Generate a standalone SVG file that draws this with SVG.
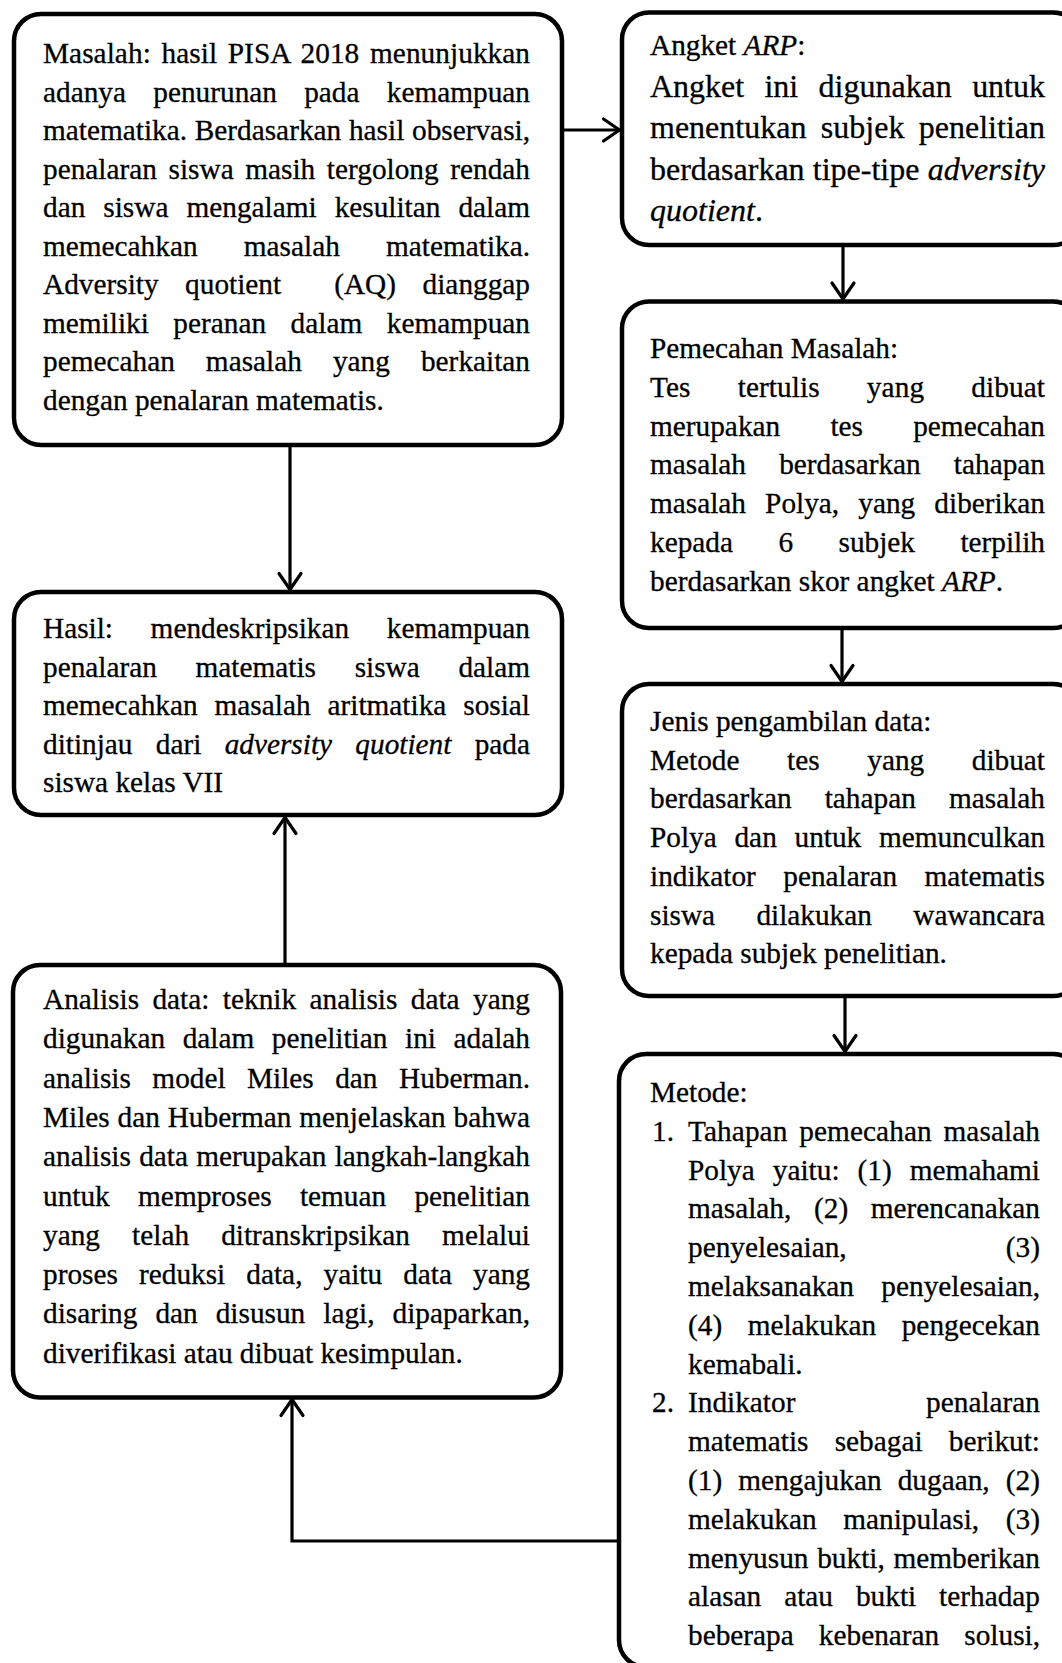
<svg xmlns="http://www.w3.org/2000/svg" width="1062" height="1663" viewBox="0 0 1062 1663">
  <style>
    .t { font-family: "Liberation Serif", "Times New Roman", serif; font-size: 29.3px; fill: #000; stroke: #000; stroke-width: 0.3px; }
    .big { font-size: 32px; }
    .i { font-style: italic; }
    .box { fill: #fff; stroke: #000; stroke-width: 4.5; }
    .link { fill: none; stroke: #000; stroke-width: 3.2; }
  </style>
  <defs>
    <marker id="arrow" markerUnits="userSpaceOnUse" markerWidth="24" markerHeight="28" viewBox="-20 -14 24 28" refX="0" refY="0" orient="auto" overflow="visible">
      <path d="M-16,-11 L0,0 L-16,11" fill="none" stroke="#000" stroke-width="3.2" stroke-linecap="round" stroke-linejoin="round"/>
    </marker>
  </defs>
  <rect width="1062" height="1663" fill="#fff"/>

  <!-- Masalah -->
  <g id="masalah">
    <rect class="box" x="14" y="14" width="548" height="431" rx="27"/>
    <text class="t" x="43" y="63" textLength="487" lengthAdjust="spacing" style="word-spacing:3.3px">Masalah: hasil PISA 2018 menunjukkan</text>
    <text class="t" x="43" y="101.5" textLength="487" lengthAdjust="spacing" style="word-spacing:19.9px">adanya penurunan pada kemampuan</text>
    <text class="t" x="43" y="140" textLength="487" lengthAdjust="spacing" style="word-spacing:0.4px">matematika. Berdasarkan hasil observasi,</text>
    <text class="t" x="43" y="178.5" textLength="487" lengthAdjust="spacing" style="word-spacing:4.2px">penalaran siswa masih tergolong rendah</text>
    <text class="t" x="43" y="217" textLength="487" lengthAdjust="spacing" style="word-spacing:10.7px">dan siswa mengalami kesulitan dalam</text>
    <text class="t" x="43" y="255.5" textLength="487" lengthAdjust="spacing" style="word-spacing:38.9px">memecahkan masalah matematika.</text>
    <text class="t" x="43" y="294" textLength="487" lengthAdjust="spacing" style="word-spacing:19.2px" xml:space="preserve">Adversity quotient  (AQ) dianggap</text>
    <text class="t" x="43" y="332.5" textLength="487" lengthAdjust="spacing" style="word-spacing:17.2px">memiliki peranan dalam kemampuan</text>
    <text class="t" x="43" y="371" textLength="487" lengthAdjust="spacing" style="word-spacing:23.7px">pemecahan masalah yang berkaitan</text>
    <text class="t" x="43" y="409.5">dengan penalaran matematis.</text>
  </g>

  <!-- Hasil -->
  <g id="hasil">
    <rect class="box" x="14" y="592" width="548" height="223" rx="27"/>
    <text class="t" x="43" y="638" textLength="487" lengthAdjust="spacing" style="word-spacing:30.3px">Hasil: mendeskripsikan kemampuan</text>
    <text class="t" x="43" y="676.6" textLength="487" lengthAdjust="spacing" style="word-spacing:31.3px">penalaran matematis siswa dalam</text>
    <text class="t" x="43" y="715.2" textLength="487" lengthAdjust="spacing" style="word-spacing:9.6px">memecahkan masalah aritmatika sosial</text>
    <text class="t" x="43" y="753.8" textLength="487" lengthAdjust="spacing" style="word-spacing:16px">ditinjau dari <tspan class="i">adversity</tspan> <tspan class="i">quotient</tspan> pada</text>
    <text class="t" x="43" y="792.4">siswa kelas VII</text>
  </g>

  <!-- Analisis data -->
  <g id="analisis">
    <rect class="box" x="13" y="965" width="548" height="432.5" rx="27"/>
    <text class="t" x="43" y="1009" textLength="487" lengthAdjust="spacing" style="word-spacing:6.1px">Analisis data: teknik analisis data yang</text>
    <text class="t" x="43" y="1048.3" textLength="487" lengthAdjust="spacing" style="word-spacing:10.3px">digunakan dalam penelitian ini adalah</text>
    <text class="t" x="43" y="1087.6" textLength="487" lengthAdjust="spacing" style="word-spacing:14.1px">analisis model Miles dan Huberman.</text>
    <text class="t" x="43" y="1126.9" textLength="487" lengthAdjust="spacing" style="word-spacing:0.5px">Miles dan Huberman menjelaskan bahwa</text>
    <text class="t" x="43" y="1166.2" textLength="487" lengthAdjust="spacing" style="word-spacing:0.9px">analisis data merupakan langkah-langkah</text>
    <text class="t" x="43" y="1205.5" textLength="487" lengthAdjust="spacing" style="word-spacing:21px">untuk memproses temuan penelitian</text>
    <text class="t" x="43" y="1244.8" textLength="487" lengthAdjust="spacing" style="word-spacing:24.8px">yang telah ditranskripsikan melalui</text>
    <text class="t" x="43" y="1284.1" textLength="487" lengthAdjust="spacing" style="word-spacing:13.7px">proses reduksi data, yaitu data yang</text>
    <text class="t" x="43" y="1323.4" textLength="487" lengthAdjust="spacing" style="word-spacing:10.7px">disaring dan disusun lagi, dipaparkan,</text>
    <text class="t" x="43" y="1362.7">diverifikasi atau dibuat kesimpulan.</text>
  </g>

  <!-- Angket ARP -->
  <g id="angket">
    <rect class="box" x="622" y="12.5" width="458" height="232.5" rx="27"/>
    <text class="t" x="650" y="55">Angket <tspan class="i">ARP</tspan>:</text>
    <text class="t big" x="650" y="96.5" textLength="395" lengthAdjust="spacing" style="word-spacing:12.3px">Angket ini digunakan untuk</text>
    <text class="t big" x="650" y="138" textLength="395" lengthAdjust="spacing" style="word-spacing:6.4px">menentukan subjek penelitian</text>
    <text class="t big" x="650" y="179.5" textLength="395" lengthAdjust="spacing" style="word-spacing:0.2px">berdasarkan tipe-tipe <tspan class="i">adversity</tspan></text>
    <text class="t big" x="650" y="221"><tspan class="i">quotient</tspan>.</text>
  </g>

  <!-- Pemecahan Masalah -->
  <g id="pemecahan">
    <rect class="box" x="622" y="301.5" width="458" height="326.5" rx="27"/>
    <text class="t" x="650" y="358.3">Pemecahan Masalah:</text>
    <text class="t" x="650" y="397" textLength="395" lengthAdjust="spacing" style="word-spacing:39.7px">Tes tertulis yang dibuat</text>
    <text class="t" x="650" y="435.7" textLength="395" lengthAdjust="spacing" style="word-spacing:42.9px">merupakan tes pemecahan</text>
    <text class="t" x="650" y="474.4" textLength="395" lengthAdjust="spacing" style="word-spacing:25.8px">masalah berdasarkan tahapan</text>
    <text class="t" x="650" y="513.1" textLength="395" lengthAdjust="spacing" style="word-spacing:11.8px">masalah Polya, yang diberikan</text>
    <text class="t" x="650" y="551.8" textLength="395" lengthAdjust="spacing" style="word-spacing:38.1px">kepada 6 subjek terpilih</text>
    <text class="t" x="650" y="590.5">berdasarkan skor angket <tspan class="i">ARP</tspan>.</text>
  </g>

  <!-- Jenis pengambilan data -->
  <g id="jenis">
    <rect class="box" x="622" y="684" width="458" height="312" rx="27"/>
    <text class="t" x="650" y="731">Jenis pengambilan data:</text>
    <text class="t" x="650" y="769.7" textLength="395" lengthAdjust="spacing" style="word-spacing:40.3px">Metode tes yang dibuat</text>
    <text class="t" x="650" y="808.4" textLength="395" lengthAdjust="spacing" style="word-spacing:25.8px">berdasarkan tahapan masalah</text>
    <text class="t" x="650" y="847.1" textLength="395" lengthAdjust="spacing" style="word-spacing:10.4px">Polya dan untuk memunculkan</text>
    <text class="t" x="650" y="885.8" textLength="395" lengthAdjust="spacing" style="word-spacing:20.1px">indikator penalaran matematis</text>
    <text class="t" x="650" y="924.5" textLength="395" lengthAdjust="spacing" style="word-spacing:34px">siswa dilakukan wawancara</text>
    <text class="t" x="650" y="963.2">kepada subjek penelitian.</text>
  </g>

  <!-- Metode -->
  <g id="metode">
    <rect class="box" x="619" y="1054" width="461" height="613" rx="27"/>
    <text class="t" x="650" y="1102">Metode:</text>
    <text class="t" x="652" y="1140.8">1.</text>
    <text class="t" x="688" y="1140.8" textLength="352" lengthAdjust="spacing" style="word-spacing:4.3px">Tahapan pemecahan masalah</text>
    <text class="t" x="688" y="1179.6" textLength="352" lengthAdjust="spacing" style="word-spacing:10.7px">Polya yaitu: (1) memahami</text>
    <text class="t" x="688" y="1218.4" textLength="352" lengthAdjust="spacing" style="word-spacing:15.3px">masalah, (2) merencanakan</text>
    <text class="t" x="688" y="1257.2" textLength="352" lengthAdjust="spacing" style="word-spacing:151.9px">penyelesaian, (3)</text>
    <text class="t" x="688" y="1296" textLength="352" lengthAdjust="spacing" style="word-spacing:20px">melaksanakan penyelesaian,</text>
    <text class="t" x="688" y="1334.8" textLength="352" lengthAdjust="spacing" style="word-spacing:18.2px">(4) melakukan pengecekan</text>
    <text class="t" x="688" y="1373.6">kemabali.</text>
    <text class="t" x="652" y="1412.4">2.</text>
    <text class="t" x="688" y="1412.4" textLength="352" lengthAdjust="spacing" style="word-spacing:123.4px">Indikator penalaran</text>
    <text class="t" x="688" y="1451.2" textLength="352" lengthAdjust="spacing" style="word-spacing:18.9px">matematis sebagai berikut:</text>
    <text class="t" x="688" y="1490" textLength="352" lengthAdjust="spacing" style="word-spacing:8.8px">(1) mengajukan dugaan, (2)</text>
    <text class="t" x="688" y="1528.8" textLength="352" lengthAdjust="spacing" style="word-spacing:19.3px">melakukan manipulasi, (3)</text>
    <text class="t" x="688" y="1567.6" textLength="352" lengthAdjust="spacing" style="word-spacing:1.4px">menyusun bukti, memberikan</text>
    <text class="t" x="688" y="1606.4" textLength="352" lengthAdjust="spacing" style="word-spacing:15.6px">alasan atau bukti terhadap</text>
    <text class="t" x="688" y="1645.2" textLength="352" lengthAdjust="spacing" style="word-spacing:17.8px">beberapa kebenaran solusi,</text>
  </g>

  <!-- Connectors -->
  <g id="connectors">
    <path class="link" d="M562,130 H619.5" marker-end="url(#arrow)"/>
    <path class="link" d="M290,445 V589.5" marker-end="url(#arrow)"/>
    <path class="link" d="M285,965 V817.5" marker-end="url(#arrow)"/>
    <path class="link" d="M843,245 V299" marker-end="url(#arrow)"/>
    <path class="link" d="M842,628 V681.5" marker-end="url(#arrow)"/>
    <path class="link" d="M845,996 V1051.5" marker-end="url(#arrow)"/>
    <path class="link" d="M619,1541 H292 V1399.5" marker-end="url(#arrow)"/>
  </g>
</svg>
